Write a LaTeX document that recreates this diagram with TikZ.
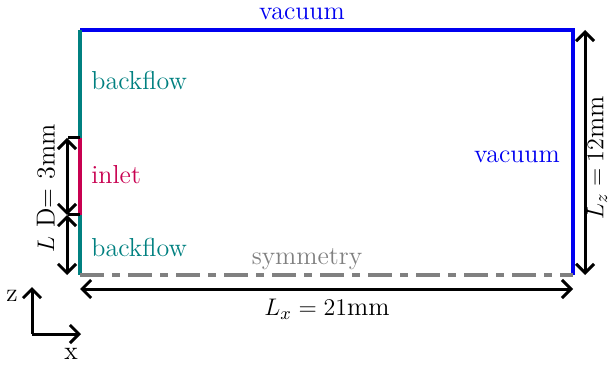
\documentclass[tikz,border=0pt]{standalone}
\usetikzlibrary{arrows.meta}
\definecolor{tealc}{RGB}{0,128,128}
\definecolor{inletc}{RGB}{200,0,80}
\definecolor{vacc}{RGB}{0,0,240}
\definecolor{symc}{RGB}{128,128,128}
\begin{document}
\begin{tikzpicture}[x=0.5pt,y=-0.5pt,
  lbl/.style={font=\fontsize{13}{15}\selectfont, inner sep=0pt},
  dim/.style={line width=1.5pt, {Straight Barb[length=4.5pt,width=9pt]}-{Straight Barb[length=4.5pt,width=9pt]}},
  wall/.style={line width=1.6pt},
  tick/.style={line width=1.5pt}]
\useasboundingbox (0,0) rectangle (608,368);
% corners
\coordinate (tl) at (80,30);
\coordinate (tr) at (573,30);
\coordinate (br) at (573,275);
\coordinate (bl) at (80,275);
\coordinate (i1) at (80,138);
\coordinate (i2) at (80,215);
% walls
\draw[wall,vacc] (tl) -- (tr) -- (br);
\draw[wall,tealc] (tl) -- (i1);
\draw[wall,tealc] (i2) -- (bl);
\draw[wall,inletc] (i1) -- (i2);
\draw[line width=1.6pt,symc,dash pattern=on 12pt off 4pt on 4pt off 4pt] (bl) -- (br);
% ticks
\coordinate (t1) at (68,138);
\coordinate (t2) at (68,215);
\draw[tick] (t1) -- (i1);
\draw[tick] (t2) -- (i2);
% dimension arrows
\coordinate (d1) at (67,138);
\coordinate (d2) at (67,215);
\coordinate (d3) at (67,275);
\draw[dim] (d1) -- (d2);
\draw[dim] (d2) -- (d3);
\node[lbl,rotate=90] (dlab) at (46,176) {D= 3mm};
\node[lbl,rotate=90] (llab) at (46,245) {$L$};
\coordinate (z1) at (585,30);
\coordinate (z2) at (585,275);
\draw[dim] (z1) -- (z2);
\node[lbl,rotate=90] (lzlab) at (597,158) {$L_z = 12$mm};
\coordinate (x1) at (80,289);
\coordinate (x2) at (573,289);
\draw[dim] (x1) -- (x2);
\node[lbl] (lxlab) at (327,309) {$L_x = 21$mm};
% labels
\node[lbl,vacc] (vtop) at (302,14) {vacuum};
\node[lbl,vacc] (vright) at (517,157) {vacuum};
\node[lbl,tealc,anchor=west] (bf1) at (91,80) {backflow};
\node[lbl,inletc,anchor=west] (inl) at (91,175) {inlet};
\node[lbl,tealc,anchor=west] (bf2) at (91,247) {backflow};
\node[lbl,symc] (sym) at (307,259) {symmetry};
% axes
\coordinate (o) at (32,334);
\coordinate (az) at (32,287);
\coordinate (ax) at (81,334);
\draw[line width=1.5pt,-{Straight Barb[length=4.5pt,width=9pt]}] (o) -- (az);
\draw[line width=1.5pt,-{Straight Barb[length=4.5pt,width=9pt]}] (o) -- (ax);
\node[lbl] (zl) at (12,296) {z};
\node[lbl] (xl) at (71,354) {x};
\end{tikzpicture}
\end{document}
